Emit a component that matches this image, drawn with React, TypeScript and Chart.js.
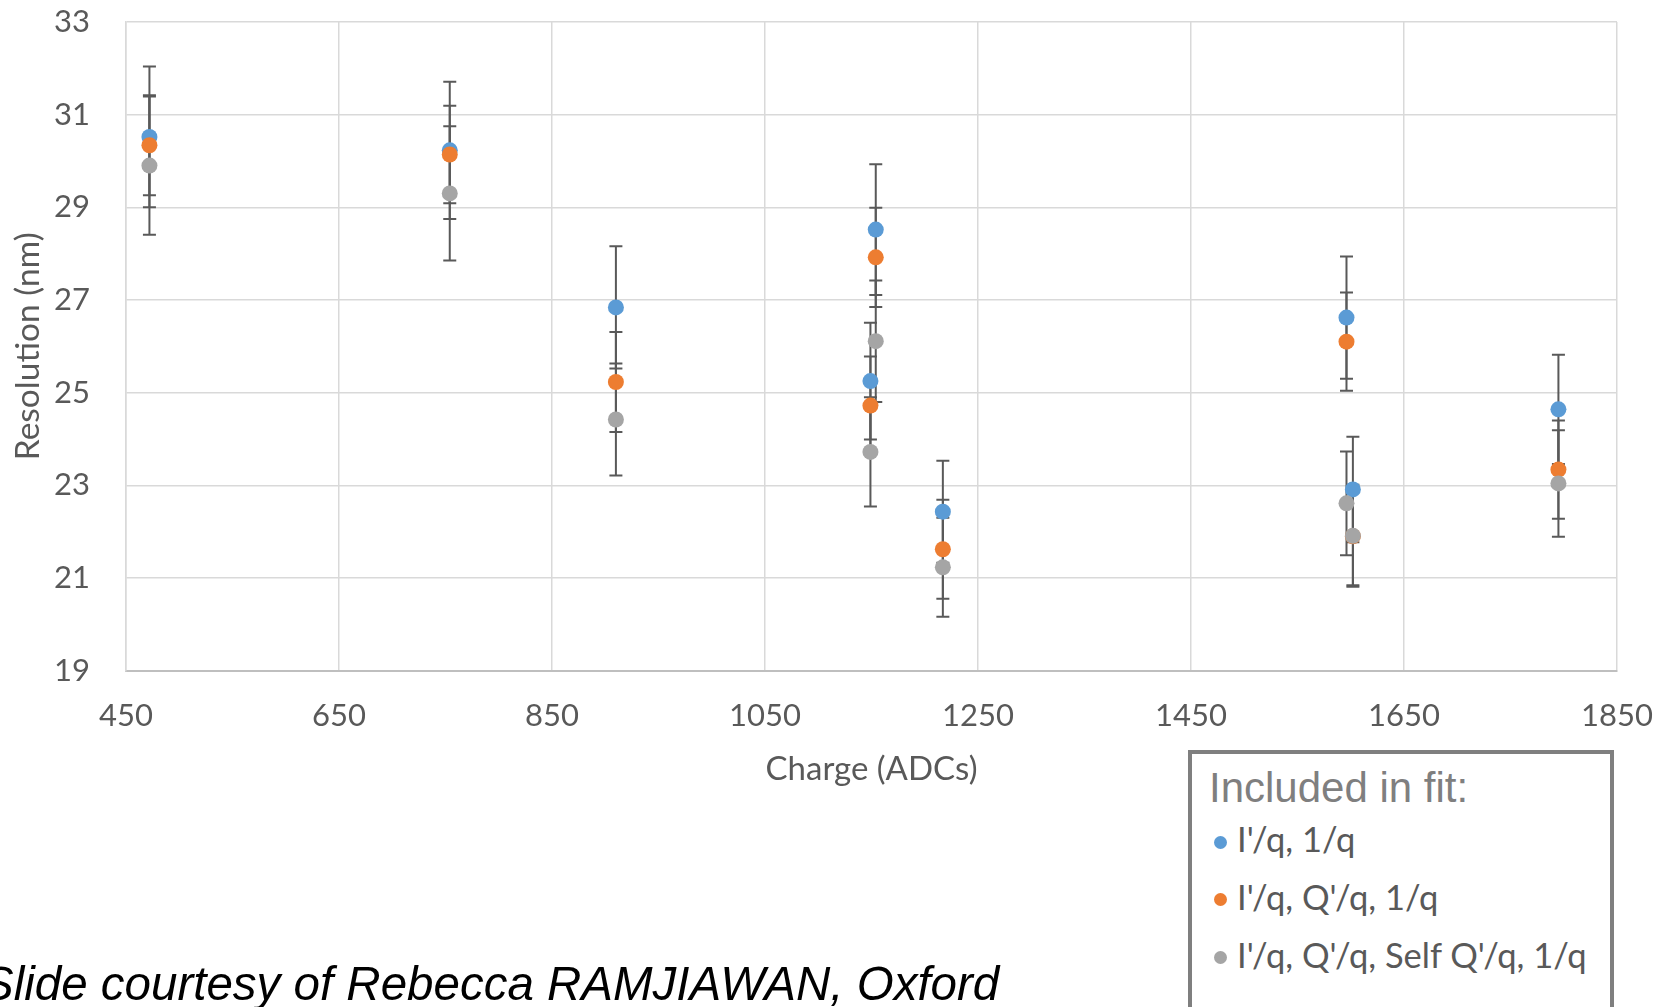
import React, { useEffect, useRef } from "react";
import { Chart, registerables } from "chart.js";

Chart.register(...registerables);

// ---- data ----
const charge = [472, 754, 910, 1154, 1149, 1217, 1596, 1602, 1795];

const seriesNames = ["I'/q, 1/q", "I'/q, Q'/q, 1/q", "I'/q, Q'/q, Self Q'/q, 1/q"];
const seriesColors = ["#5B9BD5", "#ED7D31", "#A5A5A5"];

const resIq = [30.52, 30.23, 26.84, 28.52, 25.25, 22.43, 26.62, 22.91, 24.64];
const errIq = [1.52, 1.48, 1.32, 1.41, 1.26, 1.1, 1.32, 1.14, 1.18];

const resIqQq = [30.34, 30.14, 25.23, 27.92, 24.72, 21.62, 26.1, 21.9, 23.34];
const errIqQq = [1.08, 1.05, 1.08, 1.07, 1.06, 1.07, 1.06, 1.06, 1.06];

const resIqQqSelf = [29.9, 29.3, 24.42, 26.11, 23.72, 21.23, 22.61, 21.91, 23.04];
const errIqQqSelf = [1.49, 1.45, 1.21, 1.31, 1.18, 1.07, 1.12, 1.1, 1.15];

const xMin = 450;
const xMax = 1850;
const xStep = 200;
const yMin = 19;
const yMax = 33;
const yStep = 2;

const xTitle = "Charge (ADCs)";
const yTitle = "Resolution (nm)";
const legendTitle = "Included in fit:";
const footnote = "Slide courtesy of Rebecca RAMJIAWAN, Oxford";

const allRes = [resIq, resIqQq, resIqQqSelf];
const allErr = [errIq, errIqQq, errIqQqSelf];

const FONT = "Lato, 'Open Sans', sans-serif";
const TEXT = "#595959";

const errorBarPlugin = {
  id: "errorBars",
  beforeDatasetsDraw(chart: any) {
    const ctx = chart.ctx;
    const xs = chart.scales.x;
    const ys = chart.scales.y;
    ctx.save();
    ctx.strokeStyle = "#595959";
    ctx.lineWidth = 2;
    chart.data.datasets.forEach((ds: any) => {
      ds.data.forEach((p: any) => {
        const px = xs.getPixelForValue(p.x);
        const top = ys.getPixelForValue(p.y + p.err);
        const bot = ys.getPixelForValue(p.y - p.err);
        const c = 6.5;
        ctx.beginPath();
        ctx.moveTo(px, top);
        ctx.lineTo(px, bot);
        ctx.moveTo(px - c, top);
        ctx.lineTo(px + c, top);
        ctx.moveTo(px - c, bot);
        ctx.lineTo(px + c, bot);
        ctx.stroke();
      });
    });
    ctx.restore();
  },
};

export default function App() {
  const canvasRef = useRef<HTMLCanvasElement | null>(null);

  useEffect(() => {
    if (!canvasRef.current) return;
    const datasets = seriesNames.map((name, i) => ({
      label: name,
      order: seriesNames.length - 1 - i,
      data: charge.map((c, j) => ({ x: c, y: allRes[i][j], err: allErr[i][j] })),
      backgroundColor: seriesColors[i],
      borderColor: seriesColors[i],
      borderWidth: 0,
      pointRadius: 8,
      pointHoverRadius: 8,
      showLine: false,
    }));

    const chart = new Chart(canvasRef.current, {
      type: "scatter",
      data: { datasets } as any,
      plugins: [errorBarPlugin],
      options: {
        animation: false,
        responsive: false,
        devicePixelRatio: 1,
        layout: { autoPadding: false, padding: { left: 0, right: 53, top: 22, bottom: 218 } },
        plugins: {
          legend: { display: false },
          tooltip: { enabled: false },
        },
        scales: {
          x: {
            type: "linear",
            min: xMin,
            max: xMax,
            afterFit: (s: any) => {
              s.height = 118.4;
            },
            ticks: {
              stepSize: xStep,
              color: TEXT,
              font: { family: FONT, size: 31 },
              padding: 0,
              maxRotation: 0,
              callback: (v: any) => String(v),
            },
            grid: {
              color: "#D9D9D9",
              lineWidth: 1.5,
              drawTicks: true,
              tickLength: 27,
              tickColor: "rgba(0,0,0,0)",
            },
            border: { color: "#BFBFBF", width: 2 },
            title: {
              display: true,
              text: xTitle,
              color: TEXT,
              font: { family: FONT, size: 33 },
              padding: { top: 0, bottom: 0 },
            },
          },
          y: {
            type: "linear",
            min: yMin,
            max: yMax,
            afterFit: (s: any) => {
              s.width = 126;
            },
            ticks: {
              stepSize: yStep,
              color: TEXT,
              font: { family: FONT, size: 31 },
              padding: 0,
              callback: (v: any) => String(v),
            },
            grid: {
              color: "#D9D9D9",
              lineWidth: 1.5,
              drawTicks: true,
              tickLength: 36,
              tickColor: "rgba(0,0,0,0)",
            },
            border: { color: "#D9D9D9", width: 1.5 },
            title: {
              display: true,
              text: yTitle,
              color: TEXT,
              font: { family: FONT, size: 33.5 },
              padding: { top: 8, bottom: 0 },
            },
          },
        },
      } as any,
    });
    return () => chart.destroy();
  }, []);

  return (
    <div
      style={{
        position: "absolute",
        left: 0,
        top: 0,
        width: 1670,
        height: 1007,
        overflow: "hidden",
        background: "#ffffff",
      }}
    >
      <canvas ref={canvasRef} width={1670} height={1007} style={{ position: "absolute", left: 0, top: 0 }} />
      <div
        style={{
          position: "absolute",
          left: 1188,
          top: 750,
          width: 426,
          height: 320,
          border: "4px solid #7F7F7F",
          boxSizing: "border-box",
          background: "#ffffff",
        }}
      />
      <div
        style={{
          position: "absolute",
          left: 1209,
          top: 767,
          font: "42px 'Liberation Sans', Arial, sans-serif",
          lineHeight: "42px",
          color: "#7F7F7F",
          whiteSpace: "nowrap",
        }}
      >
        {legendTitle}
      </div>
      {seriesNames.map((name, i) => (
        <div key={name}>
          <div
            style={{
              position: "absolute",
              left: 1220 - 6.5,
              top: 842 + i * 57.8 - 6.5,
              width: 13,
              height: 13,
              borderRadius: "50%",
              background: seriesColors[i],
            }}
          />
          <div
            style={{
              position: "absolute",
              left: 1237,
              top: 819 + i * 57.8,
              font: `34.5px ${FONT}`,
              lineHeight: "40px",
              color: TEXT,
              whiteSpace: "nowrap",
            }}
          >
            {name}
          </div>
        </div>
      ))}
      <div
        style={{
          position: "absolute",
          left: -18,
          top: 960,
          font: "italic 47.5px 'Liberation Sans', Arial, sans-serif",
          lineHeight: "47px",
          color: "#000000",
          whiteSpace: "nowrap",
        }}
      >
        {footnote}
      </div>
    </div>
  );
}
